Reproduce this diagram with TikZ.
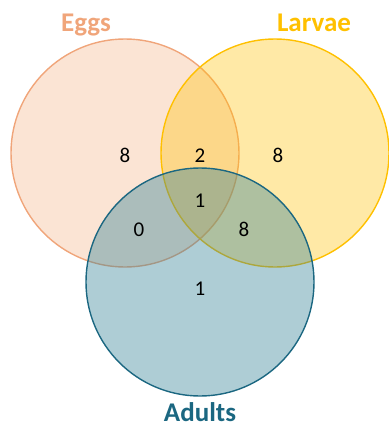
\documentclass[tikz,border=0pt]{standalone}
\usepackage{fontspec}
\setmainfont{Carlito}

\definecolor{eggcol}{HTML}{F4B183}
\definecolor{eggline}{HTML}{F0A57A}
\definecolor{larvcol}{HTML}{FFC000}
\definecolor{adultcol}{HTML}{348296}
\definecolor{adultline}{HTML}{1B6781}

\tikzset{
  setcirc/.style={circle, minimum size=228pt, inner sep=0pt, outer sep=0pt, line width=1.4pt},
  count/.style={anchor=base, inner sep=0pt, font=\fontsize{21}{21}\selectfont},
  setname/.style={anchor=base, inner sep=0pt, font=\fontsize{27}{27}\selectfont\bfseries}
}

\begin{document}
\begin{tikzpicture}[x=1pt,y=-1pt]
\useasboundingbox (0,0) rectangle (388,428);

% the three sets
\node[setcirc, draw=eggline, fill=eggcol, fill opacity=0.35] (eggs) at (125,153) {};
\node[setcirc, draw=larvcol, fill=larvcol, fill opacity=0.35] (larvae) at (275,153) {};
\node[setcirc, draw=adultline, fill=adultcol, fill opacity=0.4] (adults) at (200,282) {};

% titles
\node[setname, text=eggline] (eggsname) at (86,32) {Eggs};
\node[setname, text=larvcol] (larvaename) at (314,32) {Larvae};
\node[setname, text=adultline] (adultsname) at (200,421) {Adults};

% counts in each region
\foreach \n/\x/\y/\v in {e/125/162/8, el/200/162/2, l/278/162/8, ela/200/207/1,
                         ea/139/236/0, la/244/236/8, a/200/295/1}
{	\node[count] (n\n) at (\x,\y) {\v}; %region count
}
\end{tikzpicture}
\end{document}
